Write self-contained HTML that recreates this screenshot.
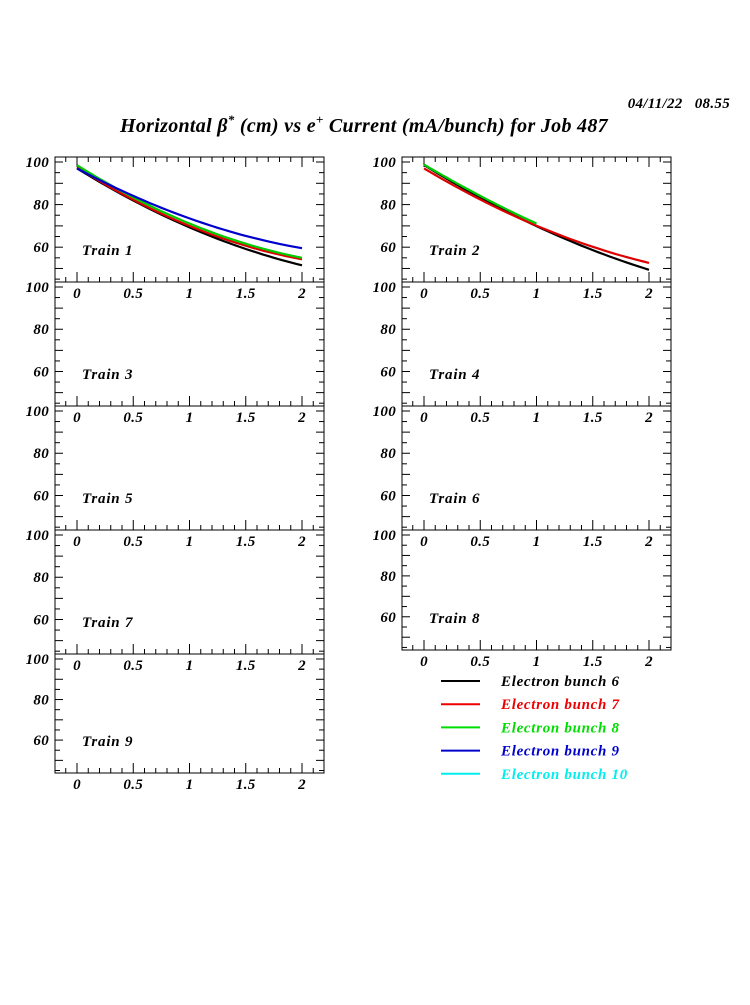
<!DOCTYPE html>
<html><head><meta charset="utf-8"><style>
html,body{margin:0;padding:0;background:#fff;}
svg text{font-family:"Liberation Serif",serif;font-weight:bold;font-style:italic;}
</style></head><body>
<svg id="s" width="750" height="1000" xmlns="http://www.w3.org/2000/svg">
<text x="364" y="132" font-size="20" letter-spacing="0.3" text-anchor="middle">Horizontal β<tspan font-size="13" dy="-8">*</tspan><tspan dy="8"> (cm) vs e</tspan><tspan font-size="13" dy="-8">+</tspan><tspan dy="8"> Current (mA/bunch) for Job 487</tspan></text>
<text x="730" y="108" font-size="15" letter-spacing="0.3" text-anchor="end" xml:space="preserve">04/11/22   08.55</text>
</svg>
<script>
var s=document.getElementById('s'),out='';
function ln(x1,y1,x2,y2,c,w){out+='<line x1="'+x1+'" y1="'+y1+'" x2="'+x2+'" y2="'+y2+'" stroke="'+(c||'#000')+'" stroke-width="'+(w||1)+'"/>';}
function tx(x,y,t,sz,anc,col,ls){out+='<text x="'+x+'" y="'+y+'" font-size="'+sz+'" letter-spacing="'+(ls||0)+'" text-anchor="'+(anc||'start')+'" fill="'+(col||'#000')+'">'+t+'</text>';}
var panels=[[55,157,282,1],[402,157,282,2],[55,282,406,3],[402,282,406,4],[55,406,530,5],[402,406,530,6],[55,530,654,7],[402,530,650,8],[55,654,773,9]];
var curves={1:[['#000',97,69.3,51.5,2],['#d00',97.5,70,54.3,2],['#0c0',98.5,71.1,55,2],['#00c',97,73.5,59.5,2]],
2:[['#000',98.6,69.9,49.4,2],['#d00',97,70.1,52.6,2],['#0c0',98.8,71.1,0,1]]};
panels.forEach(function(p){
 var L=p[0],T=p[1],B=p[2],R=L+269,n=p[3];
 var H=B-T;
 var X=function(v){return L+22+v*112.5;};
 var Y=function(v){return T+5+(100-v)*H/58.7;};
 out+='<rect x="'+L+'" y="'+T+'" width="269" height="'+H+'" fill="none" stroke="#000"/>';
 for(var i=-2;i<=22;i++){var v=i/10,x=X(v);if(x<=L||x>=R)continue;var len=(i%5==0)?10:5;ln(x,B,x,B-len);if(n<=2)ln(x,T,x,T+len);}
 for(var v=45;v<=100;v+=5){var y=Y(v);if(y<=T||y>=B)continue;var len=(v%10==0)?8:5;ln(L,y,L+len,y);ln(R,y,R-len,y);}
 [100,80,60].forEach(function(v){tx(L-6,Y(v)+5,v,15,'end','#000',0.3);});
 ['0','0.5','1','1.5','2'].forEach(function(t,i){tx(X(i*0.5),B+16,t,15,'middle','#000',0.3);});
 tx(L+27,B-27,'Train '+n,15,'start','#000',0.8);
 (curves[n]||[]).forEach(function(c){
  var v0=c[1],v1=c[2],v2=c[3],xm=c[4];
  if(xm==1){v2=v1+(v1-v0)*0.75;}
  var cc=(v0-2*v1+v2)/2,b=v1-v0-cc,pts=[];
  for(var k=0;k<=40;k++){var x=k/40*xm;pts.push(X(x).toFixed(1)+','+Y(v0+b*x+cc*x*x).toFixed(1));}
  out+='<polyline points="'+pts.join(' ')+'" fill="none" stroke="'+c[0]+'" stroke-width="2.2"/>';
 });
});
var leg=[['#000','Electron bunch 6'],['#e00','Electron bunch 7'],['#0d0','Electron bunch 8'],['#00c','Electron bunch 9'],['#0ee','Electron bunch 10']];
leg.forEach(function(l,i){var y=681+i*23.2;ln(441,y,480,y,l[0],2);tx(501,y+5,l[1],15,'start',l[0],0.7);});
s.insertAdjacentHTML('beforeend',out);
</script>
</body></html>
